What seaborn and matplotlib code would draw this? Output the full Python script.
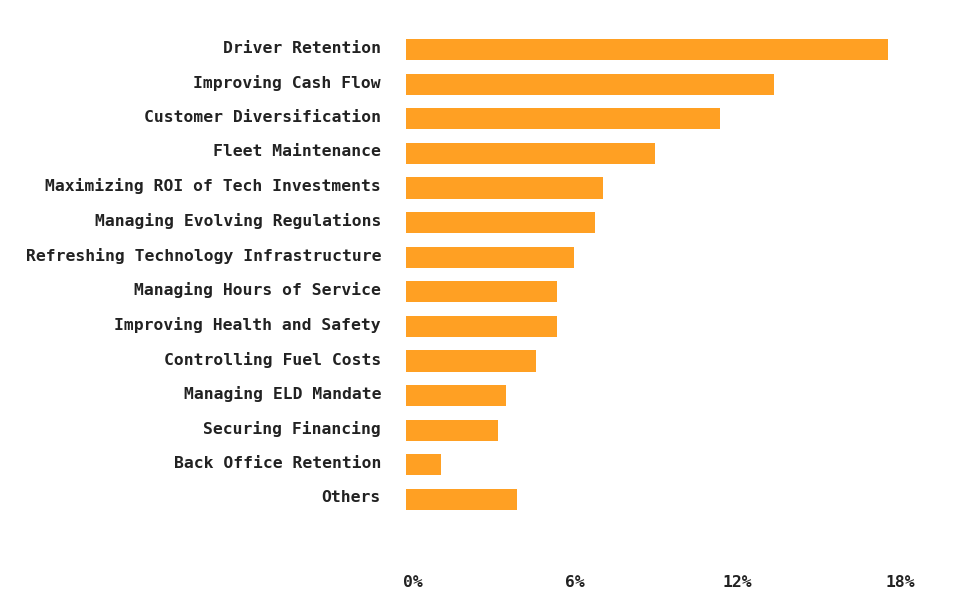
# Grafico de barras horizontales: prioridades de la industria
import pandas as pd
import matplotlib.pyplot as plt
import matplotlib.transforms as mtransforms
import seaborn as sns

# Datos
categorias = [
    "Driver Retention",
    "Improving Cash Flow",
    "Customer Diversification",
    "Fleet Maintenance",
    "Maximizing ROI of Tech Investments",
    "Managing Evolving Regulations",
    "Refreshing Technology Infrastructure",
    "Managing Hours of Service",
    "Improving Health and Safety",
    "Controlling Fuel Costs",
    "Managing ELD Mandate",
    "Securing Financing",
    "Back Office Retention",
    "Others",
]
porcentajes = [17.8, 13.6, 11.6, 9.2, 7.3, 7.0, 6.2, 5.6, 5.6, 4.8, 3.7, 3.4, 1.3, 4.1]
ticks_x = [0, 6, 12, 18]
etiquetas_x = ["0%", "6%", "12%", "18%"]

df = pd.DataFrame({"categoria": categorias, "valor": porcentajes})

sns.set_style("white")
plt.rcParams["font.family"] = ["DejaVu Sans Mono"]
texto = "#222222"

fig = plt.figure(figsize=(9.68, 6.15), dpi=100)
ax = fig.add_axes([406 / 968, 1 - 516.8 / 615, (920 - 406) / 968, (516.8 - 32.2) / 615])

sns.barplot(data=df, x="valor", y="categoria", orient="h", color="#FFA023",
            saturation=1, width=0.61, linewidth=0, ax=ax)

ax.set_xlim(0, 19)
ax.set_ylim(13.5, -0.5)
ax.set_xlabel("")
ax.set_ylabel("")
ax.set_xticks(ticks_x)
ax.set_xticklabels(etiquetas_x)
sns.despine(ax=ax, left=True, bottom=True)
ax.tick_params(axis="both", length=0, labelsize=11.8, colors=texto)
ax.tick_params(axis="y", pad=18)
ax.tick_params(axis="x", pad=42)
for lab in ax.get_xticklabels() + ax.get_yticklabels():
    lab.set_fontweight("bold")
# pequenos desplazamientos de las etiquetas
desplaza_x = mtransforms.ScaledTranslation(7 / 100, 0, fig.dpi_scale_trans)
for lab in ax.get_xticklabels():
    lab.set_transform(lab.get_transform() + desplaza_x)
desplaza_y = mtransforms.ScaledTranslation(0, 3 / 100, fig.dpi_scale_trans)
for lab in ax.get_yticklabels():
    lab.set_transform(lab.get_transform() + desplaza_y)

fig.savefig("out.png", dpi=100, facecolor="white")
